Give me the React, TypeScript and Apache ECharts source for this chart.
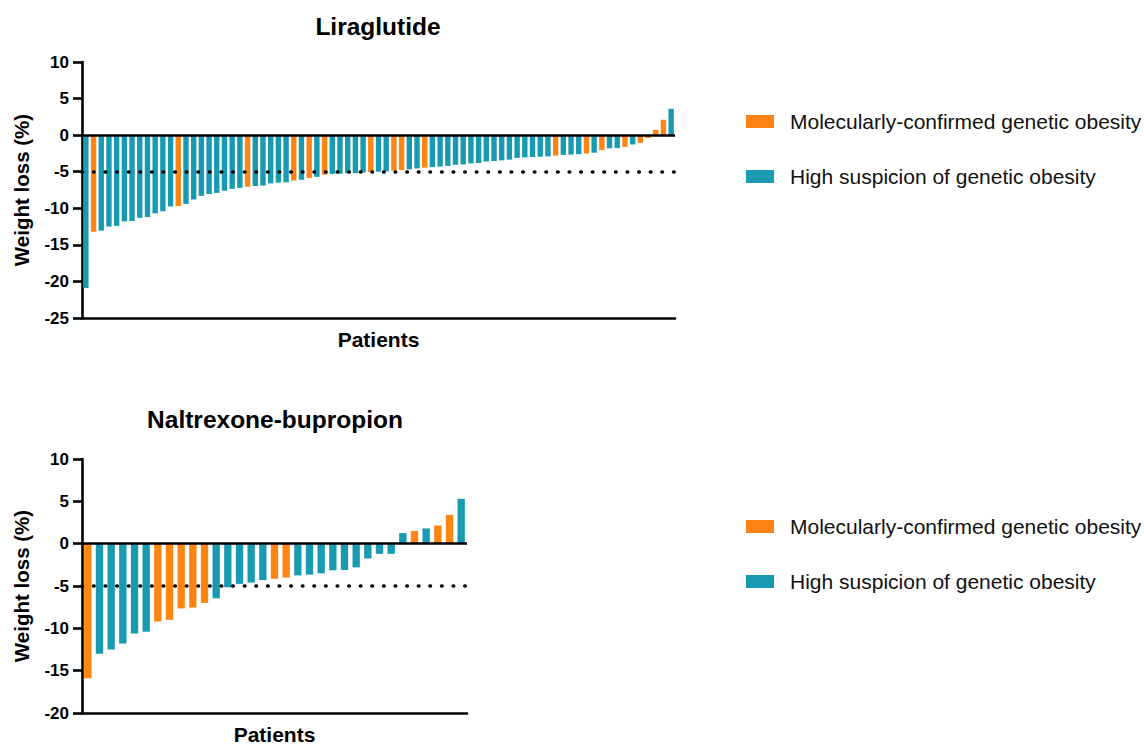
import React, { useEffect, useRef } from "react";
import * as echarts from "echarts";

const ORANGE = "#FF8512";
const TEAL = "#189AB1";
const FONT = "'Liberation Sans', Arial, Helvetica, sans-serif";

const SERIES_M = "Molecularly-confirmed genetic obesity";
const SERIES_H = "High suspicion of genetic obesity";

// Liraglutide: weight change (%) per patient, sorted
const liraValues = [
  -20.9, -13.2, -13.05, -12.5, -12.4, -11.8, -11.75, -11.3, -11.2, -10.7,
  -10.4, -9.75, -9.7, -9.4, -8.8, -8.3, -8.05, -7.9, -7.6, -7.35,
  -7.2, -7.05, -6.95, -6.9, -6.6, -6.5, -6.45, -6.2, -6.1, -5.85,
  -5.7, -5.4, -5.3, -5.27, -5.2, -5.2, -5.1, -5.05, -5.0, -4.95,
  -4.86, -4.77, -4.68, -4.55, -4.45, -4.36, -4.3, -4.2, -4.05, -4.0,
  -3.86, -3.8, -3.6, -3.55, -3.45, -3.35, -3.1, -3.05, -3.0, -2.95,
  -2.9, -2.8, -2.7, -2.65, -2.6, -2.5, -2.4, -2.05, -1.8, -1.77,
  -1.6, -1.27, -1.05, -0.4, 0.73, 2.1, 3.6,
];
// M = molecularly-confirmed, H = high suspicion
const liraGroups = [
  "H", "M", "H", "H", "H", "H", "H", "H", "H", "H",
  "H", "H", "M", "H", "H", "H", "H", "H", "H", "H",
  "H", "M", "H", "H", "H", "H", "H", "M", "H", "M",
  "H", "M", "H", "H", "H", "H", "H", "M", "H", "H",
  "M", "M", "H", "H", "M", "H", "H", "H", "H", "H",
  "H", "H", "H", "H", "H", "H", "H", "H", "H", "H",
  "H", "M", "H", "H", "H", "M", "H", "M", "H", "H",
  "M", "H", "M", "M", "M", "M", "H",
];

// Naltrexone-bupropion
const naltValues = [
  -15.9, -13.0, -12.5, -11.8, -10.6, -10.4, -9.2, -9.0, -7.65, -7.55,
  -7.0, -6.45, -5.15, -4.75, -4.6, -4.3, -4.15, -4.0, -3.75, -3.65,
  -3.5, -3.15, -3.1, -2.8, -1.75, -1.2, -1.2, 1.25, 1.5, 1.8,
  2.15, 3.4, 5.3,
];
const naltGroups = [
  "M", "H", "H", "H", "H", "H", "M", "M", "M", "M",
  "M", "H", "H", "H", "H", "H", "M", "M", "H", "H",
  "H", "H", "H", "H", "H", "H", "H", "H", "M", "H",
  "M", "M", "H",
];

const liraTicks = { min: -25, max: 10, interval: 5 };
const naltTicks = { min: -20, max: 10, interval: 5 };
const threshold = -5;

function split(values: number[], groups: string[], g: string) {
  return values.map((v, i) => (groups[i] === g ? v : "-"));
}

export default function App() {
  const ref = useRef<HTMLDivElement>(null);
  useEffect(() => {
    document.body.style.margin = "0";
    if (!ref.current) return;
    const chart = echarts.init(ref.current, undefined, { renderer: "svg" });

    const makeY = (gridIndex: number, t: any) => ({
      gridIndex,
      type: "value",
      min: t.min,
      max: t.max,
      interval: t.interval,
      axisLine: { show: true, lineStyle: { color: "#000", width: 2.6 } },
      axisTick: { show: true, length: 9, lineStyle: { color: "#000", width: 2.6 } },
      axisLabel: { fontSize: 17, fontWeight: "bold", color: "#000", margin: 13, fontFamily: FONT },
      splitLine: { show: false },
      name: "Weight loss (%)",
      nameLocation: "middle",
      nameGap: 50,
      nameTextStyle: { fontSize: 20.5, fontWeight: "bold", color: "#000", fontFamily: FONT },
    });
    const makeX = (gridIndex: number, n: number) => ({
      gridIndex,
      type: "category",
      data: Array.from({ length: n }, (_, i) => String(i + 1)),
      axisLine: { onZero: false, lineStyle: { color: "#000", width: 2.6 } },
      axisTick: { show: false },
      axisLabel: { show: false },
      name: "Patients",
      nameLocation: "middle",
      nameGap: 11,
      nameTextStyle: { fontSize: 21, fontWeight: "bold", color: "#000", fontFamily: FONT },
    });
    const refLines = {
      silent: true,
      symbol: ["none", "none"],
      label: { show: false },
      data: [
        { yAxis: 0, lineStyle: { type: "solid", color: "#000", width: 2.6 } },
        { yAxis: threshold, lineStyle: { type: [0.5, 11.1], cap: "round", color: "#000", width: 3.6 } },
      ],
    };
    const barSeries = (idx: number, values: number[], groups: string[], gap: string) => [
      {
        name: SERIES_M,
        type: "bar",
        xAxisIndex: idx,
        yAxisIndex: idx,
        data: split(values, groups, "M"),
        itemStyle: { color: ORANGE },
        barGap: "-100%",
        barCategoryGap: gap,
      },
      {
        name: SERIES_H,
        type: "bar",
        xAxisIndex: idx,
        yAxisIndex: idx,
        data: split(values, groups, "H"),
        itemStyle: { color: TEAL },
        barGap: "-100%",
        barCategoryGap: gap,
        markLine: refLines,
      },
    ];
    const legendBase = {
      data: [SERIES_M, SERIES_H],
      orient: "vertical",
      left: 746,
      padding: 0,
      itemWidth: 28,
      itemHeight: 13,
      itemGap: 34,
      icon: "rect",
      selectedMode: false,
      textStyle: { fontSize: 21, color: "#111", fontFamily: FONT, padding: [0, 0, 0, 11] },
    };

    chart.setOption({
      animation: false,
      backgroundColor: "#fff",
      textStyle: { fontFamily: FONT },
      title: [
        {
          text: "Liraglutide",
          left: 373,
          textAlign: "center",
          top: 9,
          textStyle: { fontSize: 24.5, fontWeight: "bold", color: "#000", fontFamily: FONT },
        },
        {
          text: "Naltrexone-bupropion",
          left: 270,
          textAlign: "center",
          top: 402,
          textStyle: { fontSize: 24.5, fontWeight: "bold", color: "#000", fontFamily: FONT },
        },
      ],
      legend: [
        { ...legendBase, top: 111 },
        { ...legendBase, top: 516 },
      ],
      grid: [
        { left: 82, top: 62, width: 593, height: 256 },
        { left: 82, top: 459, width: 385, height: 256 },
      ],
      xAxis: [makeX(0, liraValues.length), makeX(1, naltValues.length)],
      yAxis: [makeY(0, liraTicks), makeY(1, naltTicks)],
      series: [
        ...barSeries(0, liraValues, liraGroups, "30%"),
        ...barSeries(1, naltValues, naltGroups, "37%"),
      ],
    });
    return () => chart.dispose();
  }, []);
  return <div ref={ref} style={{ width: 1144, height: 746 }} />;
}
